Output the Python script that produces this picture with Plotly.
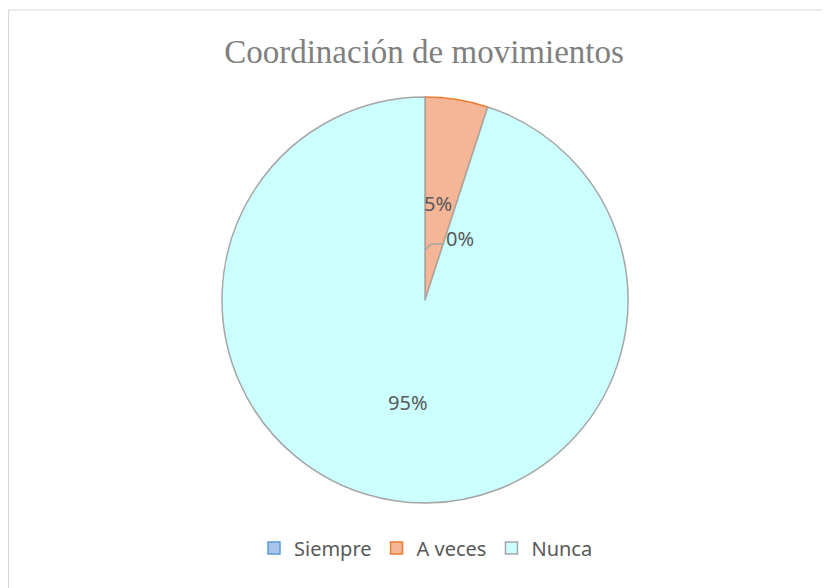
import plotly.graph_objects as go

# ---- data ----
categories = ["Siempre", "A veces", "Nunca"]
values = [0, 1, 19]
title_text = "Coordinación de movimientos"

# ---- styles ----
OFF = 8                      # default body margin of the page
W, H = 830 - OFF, 588 - OFF  # figure size so it fits the window
fill_colors = ["#a9c4eb", "#f5b597", "#ccffff"]
line_colors = ["#5b9bd5", "#ed7d31", "#a6a6a6"]
CX, CY, R = 425, 300, 203    # pie centre / radius, page px
FONT = dict(family="Noto Sans", size=20, color="#595959")


def fx(x):
    return (x - OFF) / W


def fy(y):
    return 1 - (y - OFF) / H


total = sum(values)
pct = [v / total for v in values]

fig = go.Figure()
fig.add_trace(go.Pie(
    labels=categories,
    values=values,
    sort=False,
    direction="clockwise",
    rotation=0,
    textinfo="none",
    hoverinfo="label+percent",
    marker=dict(colors=fill_colors, line=dict(color=line_colors, width=1.5)),
    domain=dict(x=[fx(CX - R), fx(CX + R)], y=[fy(CY + R), fy(CY - R)]),
    showlegend=True,
))

# data label placement (offsets from pie centre, px)
label_offsets = {"Siempre": (35, -62), "A veces": (13, -97), "Nunca": (-17, 102)}
annotations = []
for cat, p in zip(categories, pct):
    dx, dy = label_offsets[cat]
    annotations.append(dict(x=fx(CX + dx), y=fy(CY + dy), xref="paper", yref="paper",
                            xanchor="center", yanchor="middle",
                            text=f"{round(p * 100)}%", showarrow=False, font=FONT))

# leader line for the zero slice label
fig.add_shape(type="path",
              path=(f"M {fx(CX)} {fy(CY - 50)} L {fx(CX + 6)} {fy(CY - 56)} "
                    f"L {fx(CX + 19)} {fy(CY - 56)}"),
              xref="paper", yref="paper", line=dict(color="#a6a6a6", width=1.5))

# chart border
fig.add_shape(type="rect", xref="paper", yref="paper",
              x0=0.5 / W, y0=-0.02, x1=1.02, y1=fy(10),
              line=dict(color="#d9d9d9", width=1.2), fillcolor="rgba(0,0,0,0)")

fig.update_layout(
    width=W, height=H,
    margin=dict(l=0, r=0, t=0, b=0),
    paper_bgcolor="white",
    plot_bgcolor="white",
    title=dict(text=title_text, x=fx(424), xanchor="center", y=fy(51), yanchor="middle",
               font=dict(family="Liberation Serif", size=33, color="#808080")),
    legend=dict(orientation="h", x=fx(426), xanchor="center", y=fy(548), yanchor="middle",
                font=dict(family="Noto Sans", size=20, color="#595959"),
                itemclick=False, traceorder="normal"),
    annotations=annotations,
)

fig.write_html("out.html")
